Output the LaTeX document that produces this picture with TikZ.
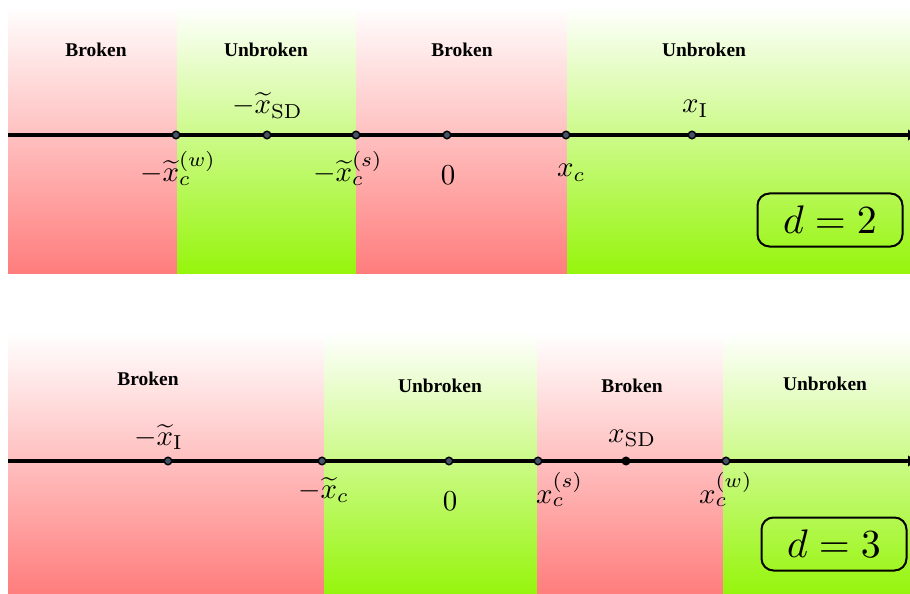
\documentclass[tikz,border=0pt]{standalone}
\usepackage{fontspec}
\newfontfamily\titlefont{Liberation Serif}
\usetikzlibrary{arrows.meta}
\definecolor{redbot}{RGB}{255,125,125}
\definecolor{greenbot}{RGB}{150,245,12}
\definecolor{dotfill}{RGB}{70,82,104}
\newcommand{\biglab}[1]{\scalebox{2.9}{$#1$}}
\newcommand{\dlab}[1]{\scalebox{4.0}{$#1$}}
\tikzset{
  redzone/.style={top color=white,bottom color=redbot,draw=none},
  greenzone/.style={top color=white,bottom color=greenbot,draw=none},
  axisline/.style={line width=3.2bp,-{Latex[length=10bp,width=12bp]}},
  ptdot/.style={circle,draw=black,fill=dotfill,line width=1.4bp,inner sep=0pt,minimum size=7.5bp},
  zonetitle/.style={font=\titlefont\bfseries\fontsize{19.5}{22}\selectfont,inner sep=0pt,anchor=base},
  lab/.style={inner sep=0pt,anchor=base west},
  dbox/.style={draw,line width=2bp,rounded corners=12bp,minimum width=145bp,minimum height=53bp,inner sep=0pt}
}
\begin{document}
\begin{tikzpicture}[x=1bp,y=-1bp]
\useasboundingbox (0,0) rectangle (910,594);
% ---------- panel d=2 ----------
\shade[redzone] (8,5) rectangle (177,273);
\shade[greenzone] (177,5) rectangle (356,273);
\shade[redzone] (356,5) rectangle (567,273);
\shade[greenzone] (567,5) rectangle (910,273);
\node[zonetitle] (t1) at (96,57) {Broken};
\node[zonetitle] (t2) at (266,57) {Unbroken};
\node[zonetitle] (t3) at (462,57) {Broken};
\node[zonetitle] (t4) at (704,57) {Unbroken};
\coordinate (A0) at (8,135);
\coordinate (A1) at (918,135);
\draw[axisline] (A0) -- (A1);
\node[ptdot] (p1) at (176,135) {};
\node[ptdot] (p2) at (267,135) {};
\node[ptdot] (p3) at (356,135) {};
\node[ptdot] (p4) at (447,135) {};
\node[ptdot] (p5) at (566,135) {};
\node[ptdot] (p6) at (692,135) {};
\node[lab] (l1) at (140,182) {\biglab{-\widetilde{x}_c^{(w)}}};
\node[lab] (l2) at (232,114) {\biglab{-\widetilde{x}_{\mathrm{SD}}}};
\node[lab] (l3) at (313,182) {\biglab{-\widetilde{x}_c^{(s)}}};
\node[lab,anchor=base] (l4) at (448,185) {\biglab{0}};
\node[lab] (l5) at (557,177) {\biglab{x_c}};
\node[lab] (l6) at (682,113) {\biglab{x_{\mathrm{I}}}};
\node[dbox] (d2) at (830,220) {\dlab{d=2}};
% ---------- panel d=3 ----------
\shade[redzone] (8,332) rectangle (324,594);
\shade[greenzone] (324,332) rectangle (537,594);
\shade[redzone] (537,332) rectangle (723,594);
\shade[greenzone] (723,332) rectangle (910,594);
\node[zonetitle] (s1) at (148,385) {Broken};
\node[zonetitle] (s2) at (440,392) {Unbroken};
\node[zonetitle] (s3) at (632,392) {Broken};
\node[zonetitle] (s4) at (825,390) {Unbroken};
\coordinate (B0) at (8,461);
\coordinate (B1) at (918,461);
\draw[axisline] (B0) -- (B1);
\node[ptdot] (q1) at (168,461) {};
\node[ptdot] (q2) at (322,461) {};
\node[ptdot] (q3) at (449,461) {};
\node[ptdot] (q4) at (538,461) {};
\node[ptdot,fill=black] (q5) at (626,461) {};
\node[ptdot] (q6) at (726,461) {};
\node[lab] (m1) at (134,445) {\biglab{-\widetilde{x}_{\mathrm{I}}}};
\node[lab] (m2) at (298,498) {\biglab{-\widetilde{x}_c}};
\node[lab,anchor=base] (m3) at (450,510) {\biglab{0}};
\node[lab] (m4) at (536,503) {\biglab{x_c^{(s)}}};
\node[lab] (m5) at (608,442) {\biglab{x_{\mathrm{SD}}}};
\node[lab] (m6) at (699,503) {\biglab{x_c^{(w)}}};
\node[dbox] (d3) at (834,544) {\dlab{d=3}};
\end{tikzpicture}
\end{document}
